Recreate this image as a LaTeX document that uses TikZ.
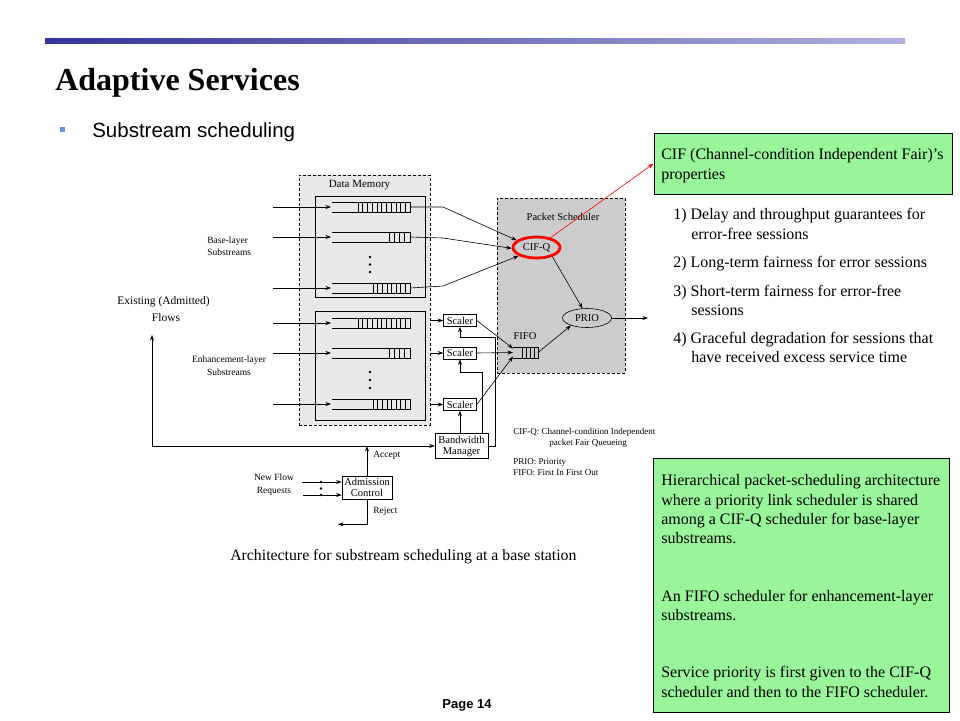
\documentclass[tikz,border=0pt]{standalone}
\usepackage{fontspec}
\setmainfont{Liberation Serif}
\newfontfamily\arialf{Liberation Sans}
\usetikzlibrary{shapes.geometric,arrows.meta}
\definecolor{gfill}{RGB}{153,245,153}
\definecolor{barL}{RGB}{51,51,153}
\definecolor{barR}{RGB}{175,175,222}
\definecolor{bulletc}{RGB}{100,150,220}
% #1 name, #2 y centre, #3 x where cells start, #4 number of cells
\newcommand\drawqueue[4]{%
  \draw (332,#2-5) -- (410,#2-5) -- (410,#2+5) -- (332,#2+5);
  \foreach \i in {0,...,#4} \draw (#3+\i*410/#4-\i*#3/#4,#2-5) -- ++(0,10);
  \coordinate (#1) at (410,#2);
  \coordinate (#1in) at (331,#2);
  \coordinate (#1src) at (273,#2);
  \draw[arr] (#1src) -- (#1in);
}
\begin{document}
\begin{tikzpicture}[x=1pt,y=-1pt,line width=0.6pt,
  lbl/.style={font=\fontsize{9.5}{11}\selectfont, inner sep=0},
  blbl/.style={font=\fontsize{10.5}{12}\selectfont, inner sep=0},
  arr/.style={-{Stealth[length=5.5pt,width=4pt]}},
  sbox/.style={draw, fill=white, font=\fontsize{10.5}{11}\selectfont, inner sep=1pt, align=center},
  gbox/.style={draw, fill=gfill, line width=0.7pt, inner sep=0},
  gtxt/.style={font=\fontsize{16}{19}\selectfont, anchor=base west, inner sep=0},
  leg/.style={font=\fontsize{9}{11}\selectfont, anchor=west, inner sep=0},
  dsh/.style={dash pattern=on 3pt off 2pt}]
\useasboundingbox (0,0) rectangle (960,720);
% header
\shade[left color=barL, right color=barR] (45,38) rectangle (905,43);
\node[font=\bfseries\fontsize{32}{36}\selectfont, anchor=base west, inner sep=0] (title) at (55,90) {Adaptive Services};
\node[fill=bulletc, minimum size=5, inner sep=0] (bul) at (62.5,129.5) {};
\node[font=\arialf\fontsize{20.5}{24}\selectfont, anchor=base west, inner sep=0] (sub) at (92,137) {Substream scheduling};
% data memory
\node[draw, dsh, fill=gray!18, minimum width=131, minimum height=250, inner sep=0] (dm) at (364.5,300) {};
\node[font=\fontsize{11}{12}\selectfont, inner sep=0] (dml) at (359.5,185) {Data Memory};
\node[draw, fill=gray!18, minimum width=110, minimum height=101, inner sep=0] (bbox) at (370,246.5) {};
\node[draw, fill=gray!18, minimum width=110, minimum height=109, inner sep=0] (ebox) at (370,365.5) {};
\drawqueue{qb1}{207}{358}{11}
\drawqueue{qb2}{237}{389}{4}
\drawqueue{qb3}{288}{373}{8}
\drawqueue{qe1}{323}{358}{11}
\drawqueue{qe2}{353}{389}{4}
\drawqueue{qe3}{404}{373}{8}
\foreach \y in {257,264.5,272,372,380,388} \fill (370,\y) circle (1.3);
\node[lbl, align=left, anchor=west, font=\fontsize{9.5}{12}\selectfont] (bl) at (207,246) {Base-layer\\Substreams};
\node[lbl, align=center, font=\fontsize{9.5}{13}\selectfont] (el) at (229,365.5) {Enhancement-layer\\Substreams};
\node[font=\fontsize{11.5}{13}\selectfont, inner sep=0] (ex) at (163.5,302) {Existing (Admitted)};
\node[font=\fontsize{11.5}{13}\selectfont, inner sep=0] (fl) at (166,318) {Flows};
% packet scheduler
\node[draw, dsh, fill=gray!40, minimum width=128, minimum height=175, inner sep=0] (ps) at (561,285.5) {};
\node[blbl] (psl) at (563,217) {Packet Scheduler};
\node[ellipse, draw=red, line width=2.8pt, minimum width=47, minimum height=21, blbl] (cifq) at (536.5,247.5) {CIF-Q};
\node[ellipse, draw, minimum width=49, minimum height=19, blbl] (prio) at (587,318) {PRIO};
\draw (513,347) -- (538,347) -- (538,358) -- (513,358);
\foreach \i in {0,...,4} \draw (522+\i*4,347) -- ++(0,11);
\node[blbl] (fifol) at (525,336) {FIFO};
\coordinate (ff1) at (513,348.5);
\coordinate (ff2) at (513,352.5);
\coordinate (ff3) at (513,356.5);
\coordinate (ffout) at (538,352.5);
\coordinate (prout) at (648,318);
% base outputs
\draw[arr] (qb1) -- (443,207) -- (cifq.160);
\draw[arr] (qb2) -- (443,238) -- (cifq.182);
\draw[arr] (qb3) -- (443,286) -- (cifq.205);
\draw[arr] (cifq.-30) -- (prio.115);
\draw[arr] (ffout) -- (prio.205);
\draw[arr] (prio.east) -- (prout);
% scalers
\node[sbox, minimum width=33, minimum height=12] (sc1) at (460,320.5) {Scaler};
\node[sbox, minimum width=33, minimum height=12] (sc2) at (460,353) {Scaler};
\node[sbox, minimum width=33, minimum height=12] (sc3) at (460,404.5) {Scaler};
\draw[arr] (dm.east |- sc1) -- (sc1.west);
\draw[arr] (dm.east |- sc2) -- (sc2.west);
\draw[arr] (dm.east |- sc3) -- (sc3.west);
\draw[arr] (sc1.east) -- (ff1);
\draw[arr] (sc2.east) -- (ff2);
\draw[arr] (sc3.east) -- (ff3);
% bandwidth manager
\node[sbox, minimum width=53, minimum height=25] (bm) at (461.5,446) {Bandwidth\\Manager};
\draw[arr] (bm.north -| sc3) -- (sc3.south);
\draw[arr] ([xshift=-6pt]bm.north east) |- ([yshift=-13pt]sc2.south) -- (sc2.south);
\draw[arr] (bm.east) -- ++(7,0) |- ([yshift=-10pt]sc1.south) -- (sc1.south);
% existing flows loop
\coordinate (exup) at (152,335);
\coordinate (exc) at (152,446);
\coordinate (jn) at (367,446);
\draw[{Stealth[length=5.5pt,width=4pt]}-{Stealth[length=5.5pt,width=4pt]}] (exup) -- (exc) -- (bm.west);
% admission control
\node[sbox, minimum width=50, minimum height=23] (ac) at (367,487.5) {Admission\\Control};
\draw[arr] (ac.north) -- (jn);
\node[lbl, anchor=west] (acc) at (373,455) {Accept};
\draw[arr] (ac.south) -- ++(0,25) -- ++(-29,0);
\node[lbl, anchor=west] (rej) at (373,511) {Reject};
\coordinate (nf1) at (302,482);
\coordinate (nf2) at (303,495);
\draw[arr] (nf1) -- ([yshift=5.5pt]ac.west);
\draw[arr] (nf2) -- ([yshift=-7.5pt]ac.west);
\foreach \y in {482,488.5,495} \fill (321,\y) circle (1.3);
\node[lbl, align=center, font=\fontsize{9.5}{13}\selectfont] (nfr) at (274,484.5) {New Flow\\Requests};
% legend
\node[leg] (lg1) at (513,432) {CIF-Q: Channel-condition Independent};
\node[leg] (lg2) at (549,443) {packet Fair Queueing};
\node[leg] (lg3) at (513,462) {PRIO: Priority};
\node[leg] (lg4) at (513,473) {FIFO: First In First Out};
% caption
\node[font=\fontsize{15.8}{18}\selectfont, anchor=base west, inner sep=0] (cap) at (230,560) {Architecture for substream scheduling at a base station};
% green box 1
\node[gbox, minimum width=298, minimum height=61] (g1) at (803,163.5) {};
\node[gtxt] (g1a) at (661,159) {CIF (Channel-condition Independent Fair)’s};
\node[gtxt] (g1b) at (661,179) {properties};
\draw[red, line width=0.6pt, -{Stealth[length=6pt,width=4pt]}] (cifq.35) -- (g1.west);
% properties list
\node[gtxt] (p1a) at (673,219) {1) Delay and throughput guarantees for};
\node[gtxt] (p1b) at (691,239) {error-free sessions};
\node[gtxt] (p2) at (673,267) {2) Long-term fairness for error sessions};
\node[gtxt] (p3a) at (673,296) {3) Short-term fairness for error-free};
\node[gtxt] (p3b) at (691,315) {sessions};
\node[gtxt] (p4a) at (673,343) {4) Graceful degradation for sessions that};
\node[gtxt] (p4b) at (691,362) {have received excess service time};
% green box 2
\node[gbox, minimum width=296, minimum height=254] (g2) at (801,585) {};
\node[gtxt] (h1) at (661,485) {Hierarchical packet-scheduling architecture};
\node[gtxt] (h2) at (661,505) {where a priority link scheduler is shared};
\node[gtxt] (h3) at (661,524) {among a CIF-Q scheduler for base-layer};
\node[gtxt] (h4) at (661,543) {substreams.};
\node[gtxt] (h5) at (661,601) {An FIFO scheduler for enhancement-layer};
\node[gtxt] (h6) at (661,620) {substreams.};
\node[gtxt] (h7) at (661,677) {Service priority is first given to the CIF-Q};
\node[gtxt] (h8) at (661,697) {scheduler and then to the FIFO scheduler.};
% footer
\node[font=\arialf\bfseries\fontsize{13}{15}\selectfont, inner sep=0] (pg) at (467,705) {Page 14};
\end{tikzpicture}
\end{document}
